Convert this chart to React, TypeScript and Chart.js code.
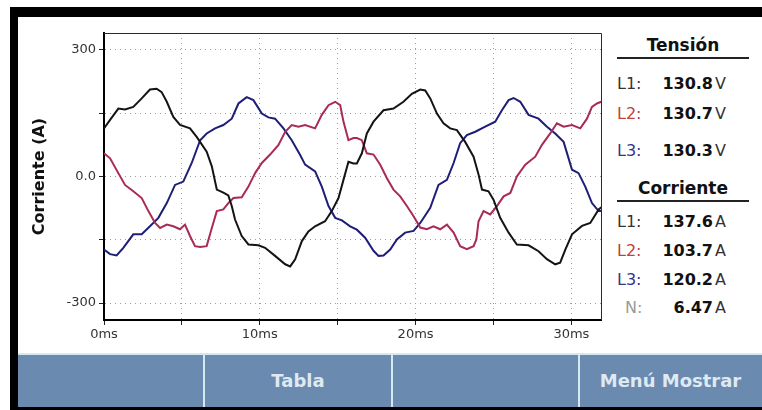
import React, { useEffect, useRef } from "react";
import { Chart, registerables } from "chart.js";

Chart.register(...registerables);

// [time ms, current A]
const l1Samples: number[][] = [
  [0, 114], [0.39, 134], [0.92, 161], [1.35, 159], [1.88, 165], [2.42, 185], [2.95, 206], [3.38, 208], [3.7, 200], [4.03, 177],
  [4.45, 141], [4.88, 122], [5.52, 114], [5.95, 94], [6.59, 59], [6.92, 24], [7.24, -31], [7.66, -38], [7.98, -45], [8.2, -70],
  [8.41, -102], [8.84, -141], [9.27, -161], [9.91, -163], [10.34, -169], [10.98, -188], [11.63, -208], [11.95, -213], [12.27, -196], [12.7, -153],
  [13.12, -130], [13.55, -118], [14.19, -106], [14.62, -82], [15.05, -51], [15.37, -8], [15.69, 35], [16.01, 31], [16.23, 31], [16.55, 55],
  [16.87, 102], [17.3, 130], [17.94, 157], [18.58, 161], [19.22, 177], [19.76, 196], [20.3, 206], [20.62, 204], [20.94, 185], [21.37, 149],
  [21.79, 126], [22.22, 114], [22.65, 110], [23.18, 82], [23.72, 47], [24.04, 5], [24.26, -31], [24.68, -35], [25.0, -55], [25.43, -98],
  [25.97, -133], [26.5, -161], [27.25, -163], [27.89, -177], [28.43, -196], [28.96, -208], [29.28, -204], [29.61, -173], [30.04, -137], [30.68, -117],
  [31.21, -110], [31.75, -78], [31.92, -73],
];

const l2Samples: number[][] = [
  [0, 55], [0.39, 43], [0.92, 8], [1.35, -20], [1.88, -35], [2.42, -51], [2.85, -82], [3.28, -110], [3.6, -122], [4.03, -114],
  [4.45, -118], [4.88, -125], [5.2, -114], [5.52, -141], [5.84, -165], [6.17, -167], [6.59, -165], [6.92, -122], [7.24, -82], [7.66, -78],
  [7.98, -63], [8.31, -51], [8.84, -49], [9.27, -24], [9.7, 8], [10.13, 32], [10.66, 52], [11.2, 75], [11.63, 106], [12.05, 122],
  [12.48, 118], [12.91, 122], [13.55, 114], [13.98, 146], [14.41, 169], [14.84, 177], [15.16, 169], [15.37, 130], [15.69, 86], [16.01, 91],
  [16.23, 91], [16.55, 86], [16.87, 55], [17.3, 52], [17.73, 28], [18.16, -4], [18.58, -31], [19.01, -47], [19.44, -70], [19.87, -94],
  [20.3, -121], [20.72, -125], [21.15, -118], [21.58, -125], [22.01, -114], [22.44, -133], [22.86, -165], [23.29, -172], [23.72, -165], [23.9, -149],
  [24.04, -106], [24.36, -82], [24.79, -90], [25.22, -70], [25.65, -47], [26.08, -39], [26.5, 0], [27.04, 28], [27.68, 47], [28.11, 75],
  [28.64, 102], [29.07, 126], [29.5, 118], [30.04, 122], [30.57, 114], [31.0, 137], [31.32, 165], [31.64, 173], [31.92, 177],
];

const l3Samples: number[][] = [
  [0, -173], [0.39, -184], [0.81, -187], [1.24, -169], [1.88, -137], [2.42, -137], [2.95, -118], [3.49, -98], [4.03, -63], [4.56, -20],
  [5.09, -12], [5.63, 32], [6.17, 86], [6.59, 102], [7.13, 114], [7.66, 122], [8.2, 137], [8.63, 173], [9.16, 188], [9.59, 181],
  [10.13, 149], [10.55, 140], [10.98, 137], [11.52, 114], [12.05, 86], [12.59, 51], [12.91, 28], [13.55, 12], [13.98, -24], [14.41, -70],
  [14.84, -98], [15.27, -104], [15.8, -118], [16.23, -126], [16.76, -145], [17.3, -176], [17.62, -188], [17.94, -187], [18.37, -173], [18.8, -149],
  [19.33, -133], [19.87, -129], [20.3, -110], [20.94, -74], [21.47, -20], [22.01, -8], [22.44, 32], [22.86, 79], [23.29, 98], [23.83, 106],
  [24.47, 118], [25.11, 130], [25.54, 157], [25.97, 181], [26.29, 186], [26.72, 177], [27.25, 146], [27.89, 137], [28.43, 118], [28.96, 102],
  [29.5, 82], [30.04, 16], [30.46, 8], [30.89, -24], [31.32, -63], [31.75, -82], [31.92, -82],
];

const seriesNames = ["L1", "L2", "L3"];
const seriesColors = ["#141414", "#a82a55", "#1e1e78"];

const yTickLabels: Record<string, string> = { "300": "300", "0": "0.0", "-300": "-300" };
const xLabelEvery = 10;

const voltageLabels = ["L1:", "L2:", "L3:"];
const voltageValues = ["130.8", "130.7", "130.3"];
const currentLabels = ["L1:", "L2:", "L3:", "N:"];
const currentValues = ["137.6", "103.7", "120.2", "6.47"];
const labelColors = ["#333333", "#c0403a", "#34348c", "#9a9a9a"];
const buttonLabels = ["", "Tabla", "", "Menú Mostrar"];

const FONT = "'DejaVu Sans', sans-serif";

const frameBorder = {
  id: "frameBorder",
  afterDatasetsDraw(chart: any) {
    const { ctx, chartArea } = chart;
    ctx.save();
    ctx.strokeStyle = "#2a2a2a";
    ctx.lineWidth = 1;
    ctx.beginPath();
    ctx.moveTo(chartArea.left, chartArea.top + 0.5);
    ctx.lineTo(chartArea.right + 0.5, chartArea.top + 0.5);
    ctx.lineTo(chartArea.right + 0.5, chartArea.bottom);
    ctx.stroke();
    ctx.restore();
  },
};

function PlotCanvas() {
  const ref = useRef<HTMLCanvasElement | null>(null);
  useEffect(() => {
    if (!ref.current) return;
    const all = [l1Samples, l2Samples, l3Samples];
    const chart = new Chart(ref.current, {
      type: "line",
      data: {
        datasets: all.map((s, i) => ({
          label: seriesNames[i],
          data: s.map(([x, y]) => ({ x, y })),
          borderColor: seriesColors[i],
          borderWidth: 2,
          pointRadius: 0,
          tension: 0,
          fill: false,
        })),
      },
      options: {
        animation: false,
        responsive: false,
        layout: { padding: { top: 16, right: 9, left: 0, bottom: 0 } },
        plugins: { legend: { display: false }, tooltip: { enabled: false } },
        scales: {
          x: {
            type: "linear",
            min: 0,
            max: 31.9,
            ticks: {
              stepSize: 5,
              includeBounds: false,
              maxRotation: 0,
              autoSkip: false,
              padding: 2,
              color: "#333",
              font: { family: FONT, size: 13 },
              callback: (v: any) => (Math.abs(v % xLabelEvery) < 1e-6 ? `${Math.round(v)}ms` : ""),
            },
            grid: { color: "#9c9c9c", lineWidth: 1, tickLength: 5, tickColor: "#222" },
            border: { display: true, color: "#000", width: 2, dash: [1, 4] },
            afterFit: (s: any) => { s.height = 30; },
          },
          y: {
            type: "linear",
            min: -340,
            max: 340,
            ticks: {
              stepSize: 150,
              includeBounds: false,
              padding: 3,
              color: "#333",
              font: { family: FONT, size: 13 },
              callback: (v: any) => yTickLabels[String(Math.round(v))] ?? "",
            },
            grid: { color: "#9c9c9c", lineWidth: 1, tickLength: 5, tickColor: "#222" },
            border: { display: true, color: "#000", width: 2, dash: [1, 4] },
            title: {
              display: true,
              text: "Corriente (A)",
              color: "#111",
              font: { family: FONT, size: 16, weight: "bold" },
              padding: { top: 12, bottom: 0 },
            },
            afterFit: (s: any) => { s.width = 86; },
          },
        },
      },
      plugins: [frameBorder],
    } as any);
    return () => chart.destroy();
  }, []);
  return (
    <canvas
      ref={ref}
      width={592}
      height={333}
      style={{ position: "absolute", left: 18, top: 17, width: 592, height: 333 }}
    />
  );
}

function Row({ y, label, color, value, unit }: { y: number; label: string; color: string; value: string; unit: string }) {
  const lh = 22;
  return (
    <>
      <div style={{ position: "absolute", left: label === "N:" ? 625 : 617, top: y - lh / 2, lineHeight: `${lh}px`, fontSize: 16, color }}>{label}</div>
      <div style={{ position: "absolute", right: 762 - 713, top: y - lh / 2, lineHeight: `${lh}px`, fontSize: 16, fontWeight: "bold", color: "#111" }}>{value}</div>
      <div style={{ position: "absolute", left: 715, top: y - lh / 2, lineHeight: `${lh}px`, fontSize: 16, color: "#333" }}>{unit}</div>
    </>
  );
}

export default function App() {
  const voltY = [84, 114, 151];
  const currY = [222, 251, 280, 308];
  const btnEdges = [18, 204, 392, 579, 762];
  return (
    <div style={{ position: "absolute", left: 0, top: 0, width: 762, height: 410, background: "#fff", overflow: "hidden", fontFamily: FONT }}>
      {/* frame */}
      <div style={{ position: "absolute", left: 10, top: 7, width: 752, height: 10, background: "#000" }} />
      <div style={{ position: "absolute", left: 10, top: 7, width: 8, height: 403, background: "#000" }} />
      <div style={{ position: "absolute", left: 10, top: 407, width: 752, height: 3, background: "#000" }} />

      <PlotCanvas />

      {/* side panel */}
      <div style={{ position: "absolute", left: 617, width: 132, top: 34, textAlign: "center", fontSize: 17, fontWeight: "bold", color: "#111", lineHeight: "22px" }}>Tensión</div>
      <div style={{ position: "absolute", left: 617, width: 132, top: 57, height: 2, background: "#222" }} />
      {voltageLabels.map((l, i) => (
        <Row key={"v" + i} y={voltY[i]} label={l} color={labelColors[i]} value={voltageValues[i]} unit="V" />
      ))}
      <div style={{ position: "absolute", left: 617, width: 132, top: 177, textAlign: "center", fontSize: 17, fontWeight: "bold", color: "#111", lineHeight: "22px" }}>Corriente</div>
      <div style={{ position: "absolute", left: 617, width: 132, top: 200, height: 2, background: "#222" }} />
      {currentLabels.map((l, i) => (
        <Row key={"c" + i} y={currY[i]} label={l} color={labelColors[i]} value={currentValues[i]} unit="A" />
      ))}

      {/* button bar */}
      <div style={{ position: "absolute", left: 18, top: 353, width: 744, height: 54, background: "#6a8ab0", borderTop: "2px solid #d4e9f2", boxSizing: "border-box" }} />
      {buttonLabels.map((b, i) => (
        <div key={"b" + i} style={{ position: "absolute", left: btnEdges[i], width: btnEdges[i + 1] - btnEdges[i], top: 355, height: 52, lineHeight: "52px", textAlign: "center", fontSize: 18, fontWeight: "bold", color: "#dfe9f1" }}>{b}</div>
      ))}
      {btnEdges.slice(1, 4).map((x, i) => (
        <div key={"d" + i} style={{ position: "absolute", left: x - 1, top: 353, width: 2, height: 54, background: "#d4e9f2" }} />
      ))}
    </div>
  );
}
